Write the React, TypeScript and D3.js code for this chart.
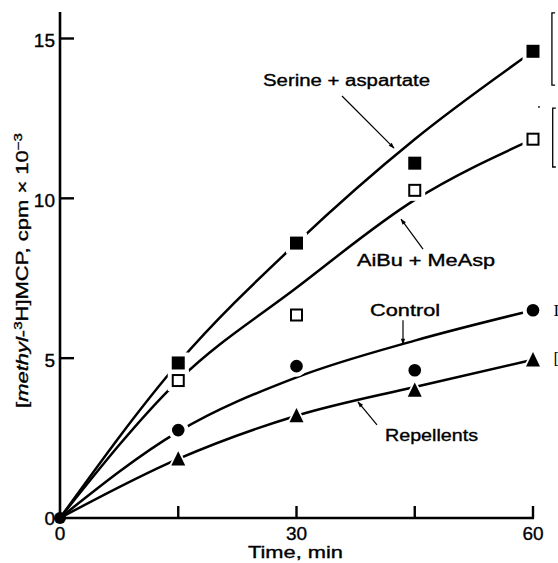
import React from 'react';
import * as d3 from 'd3';

// Measured data points (time in min, value in cpm × 10^-3)
const times = [0, 15, 30, 45, 60];
const serineAspartate = [0, 4.85, 8.6, 11.1, 14.6];
const aibuMeAsp = [0, 4.3, 6.35, 10.25, 11.85];
const control = [0, 2.75, 4.75, 4.62, 6.5];
const repellents = [0, 1.85, 3.2, 4.0, 4.95];

// Hand-drawn fitted curves
const fitTimes = [0, 15, 30, 45, 60];
const serineFit = [0, 4.85, 8.6, 11.85, 14.6];
const aibuFit = [0, 4.3, 7.2, 9.95, 11.85];
const controlFit = [0, 2.7, 4.4, 5.55, 6.5];
const repellentsFit = [0, 1.85, 3.2, 4.1, 4.95];

const xTicks = [15, 30, 45, 60];
const xTickLabels = ['0', '30', '60'];
const xTickLabelValues = [0, 30, 60];
const yTicks = [5, 10, 15];
const yTickLabels = ['0', '5', '10', '15'];
const yTickLabelValues = [0, 5, 10, 15];

const W = 558;
const H = 563;
const FONT = "'Liberation Sans', Arial, Helvetica, sans-serif";

export default function App() {
  const x = d3.scaleLinear().domain([0, 60]).range([60, 533]);
  const y = d3.scaleLinear().domain([0, 15]).range([518, 38.5]);

  const line = d3
    .line<[number, number]>()
    .x((d) => x(d[0]))
    .y((d) => y(d[1]))
    .curve(d3.curveMonotoneX);

  const fits = [serineFit, aibuFit, controlFit, repellentsFit];

  const sq = 13;
  const halo = 4;

  const arrow = (t1: number, v1: number, t2: number, v2: number, key: string) => (
    <line
      key={key}
      x1={x(t1)}
      y1={y(v1)}
      x2={x(t2)}
      y2={y(v2)}
      stroke="#000"
      strokeWidth={1.2}
      markerEnd="url(#ah)"
    />
  );

  const tri = (cx: number, cy: number, s: number) => {
    const h = s * 0.95;
    return `M${cx},${cy - h / 2 - 1} L${cx + s / 2},${cy + h / 2} L${cx - s / 2},${cy + h / 2} Z`;
  };

  const txt = { stroke: '#000', strokeWidth: 0.35 };

  return (
    <svg
      width={W}
      height={H}
      style={{ position: 'absolute', left: 0, top: 0, background: '#fff' }}
      fontFamily={FONT}
    >
      <defs>
        <marker id="ah" viewBox="0 0 10 10" refX="9" refY="5" markerWidth="9" markerHeight="6" orient="auto" markerUnits="userSpaceOnUse">
          <path d="M0,1.5 L10,5 L0,8.5 Z" fill="#000" />
        </marker>
      </defs>
      <rect x={0} y={0} width={W} height={H} fill="#fff" />

      {/* axes */}
      <line x1={x(0)} y1={y(0) + 1.2} x2={x(0)} y2={y(15.83)} stroke="#000" strokeWidth={2.6} />
      <line x1={x(0)} y1={y(0)} x2={x(60) + 1} y2={y(0)} stroke="#000" strokeWidth={2.6} />
      {yTicks.map((v) => (
        <line key={'yt' + v} x1={x(0)} x2={x(0) + 14} y1={y(v)} y2={y(v)} stroke="#000" strokeWidth={2.4} />
      ))}
      {xTicks.map((t) => (
        <line key={'xt' + t} x1={x(t)} x2={x(t)} y1={y(0)} y2={y(0) - 12} stroke="#000" strokeWidth={2.4} />
      ))}
      {yTickLabelValues.map((v, i) => (
        <text key={'yl' + v} x={x(0) - 5} y={y(v) + (v === 0 ? 7 : 8.5)} textAnchor="end" fontSize={19} {...txt}>
          {yTickLabels[i]}
        </text>
      ))}
      {xTickLabelValues.map((t, i) => (
        <text key={'xl' + t} x={x(t)} y={y(0) + 22} textAnchor="middle" fontSize={19} {...txt}>
          {xTickLabels[i]}
        </text>
      ))}
      <text x={x(30) - 1} y={558} textAnchor="middle" fontSize={17} textLength={95} lengthAdjust="spacingAndGlyphs" {...txt}>
        Time, min
      </text>
      <text
        x={28}
        y={270.5}
        transform="rotate(-90, 28, 270.5)"
        textAnchor="middle"
        fontSize={16}
        textLength={275}
        lengthAdjust="spacingAndGlyphs"
        {...txt}
      >
        [<tspan fontStyle="italic">methyl</tspan>-<tspan fontSize={11} dy={-6}>3</tspan>
        <tspan dy={6}>H]MCP, cpm × 10</tspan>
        <tspan fontSize={11} dy={-6}>−3</tspan>
      </text>

      {/* fitted curves */}
      {fits.map((f, i) => (
        <path
          key={'fit' + i}
          d={line(fitTimes.map((t, j) => [t, f[j]] as [number, number])) || ''}
          fill="none"
          stroke="#000"
          strokeWidth={2.5}
        />
      ))}

      {/* marker halos (gaps in lines) */}
      {times.map((t, i) =>
        i === 0 ? null : (
          <g key={'halo' + t} fill="#fff">
            <rect x={x(t) - sq / 2 - halo} y={y(serineAspartate[i]) - sq / 2 - halo} width={sq + 2 * halo} height={sq + 2 * halo} />
            <rect x={x(t) - sq / 2 - halo} y={y(aibuMeAsp[i]) - sq / 2 - halo} width={sq + 2 * halo} height={sq + 2 * halo} />
            <circle cx={x(t)} cy={y(control[i])} r={6.5 + halo} />
            <path d={tri(x(t), y(repellents[i]), 14 + 2 * halo)} />
          </g>
        )
      )}

      {/* markers */}
      {times.map((t, i) =>
        i === 0 ? null : (
          <g key={'mk' + t}>
            <rect x={x(t) - sq / 2} y={y(serineAspartate[i]) - sq / 2} width={sq} height={sq} fill="#000" />
            <rect
              x={x(t) - sq / 2 + 1}
              y={y(aibuMeAsp[i]) - sq / 2 + 1}
              width={sq - 2}
              height={sq - 2}
              fill="#fff"
              stroke="#000"
              strokeWidth={2}
            />
            <circle cx={x(t)} cy={y(control[i])} r={6.3} fill="#000" />
            <path d={tri(x(t), y(repellents[i]), 14)} fill="#000" />
          </g>
        )
      )}
      <circle cx={x(times[0])} cy={y(control[0])} r={6} fill="#000" />

      {/* annotations */}
      <text x={x(25.75)} y={y(13.51)} fontSize={16} textLength={167} lengthAdjust="spacingAndGlyphs" {...txt}>
        Serine + aspartate
      </text>
      {arrow(35.77, 13.2, 42.37, 11.57, 'a1')}
      <text x={x(37.68)} y={y(7.88)} fontSize={16} textLength={138} lengthAdjust="spacingAndGlyphs" {...txt}>
        AiBu + MeAsp
      </text>
      {arrow(46.05, 8.41, 43.26, 9.35, 'a2')}
      <text x={x(39.33)} y={y(6.32)} fontSize={16} textLength={70} lengthAdjust="spacingAndGlyphs" {...txt}>
        Control
      </text>
      {arrow(43.51, 6.19, 43.51, 5.44, 'a3')}
      <text x={x(41.23)} y={y(2.41)} fontSize={16} textLength={93} lengthAdjust="spacingAndGlyphs" {...txt}>
        Repellents
      </text>
      {arrow(40.21, 2.91, 37.8, 3.63, 'a4')}

      {/* cropped bracket marks at the right edge */}
      <path
        d={`M${x(62.8)},${y(15.8)} H${x(62.4)} V${y(13.54)} H${x(62.8)}`}
        fill="none"
        stroke="#000"
        strokeWidth={1.3}
      />
      <path
        d={`M${x(62.9)},${y(12.82)} H${x(62.5)} V${y(10.98)} H${x(62.9)}`}
        fill="none"
        stroke="#000"
        strokeWidth={1.3}
      />
      <circle cx={x(60.76)} cy={y(12.86)} r={0.9} fill="#000" />
      <text x={x(62.6)} y={y(6.5) + 6} fontSize={17} fontFamily="'Liberation Serif', 'DejaVu Serif', serif">
        I
      </text>
      <text x={x(62.6)} y={y(5.0) + 6} fontSize={17} fontFamily="'Liberation Serif', 'DejaVu Serif', serif">
        [
      </text>
    </svg>
  );
}
